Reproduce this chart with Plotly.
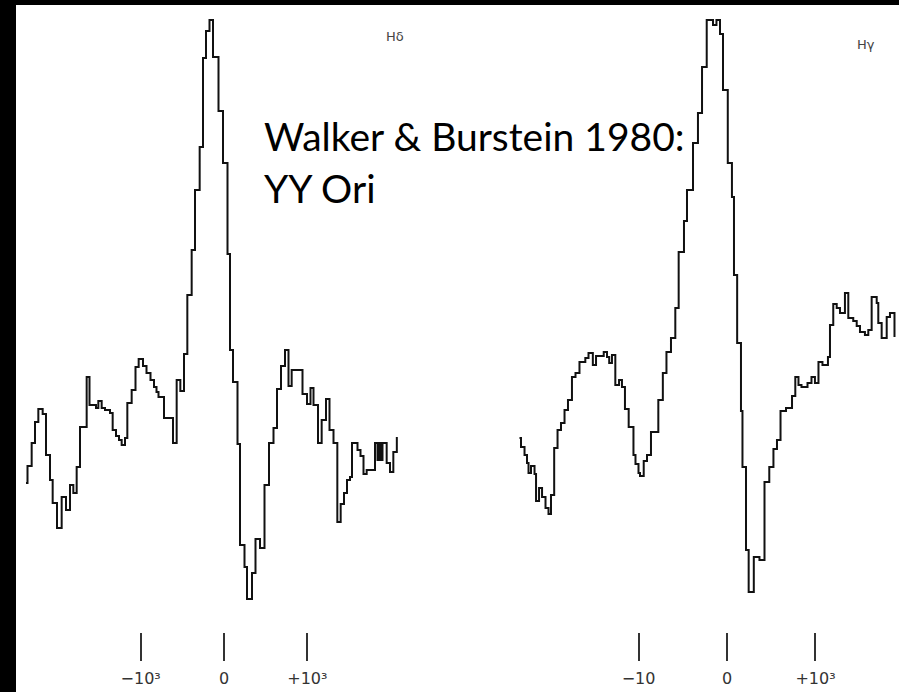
import plotly.graph_objects as go

# H-delta profile: step start velocity (km/s) and relative flux
hd_velocity = [
    -2376, -2358, -2308, -2268, -2228, -2176, -2136, -2088, -2056, -2004,
    -1948, -1896, -1848, -1808, -1768, -1728, -1648, -1614, -1536, -1508,
    -1468, -1428, -1368, -1336, -1296, -1260, -1228, -1188, -1160, -1108,
    -1062, -1024, -972, -930, -882, -840, -810, -786, -720, -612,
    -568, -524, -480, -440, -388, -348, -292, -252, -216, -174,
    -132, -66, -12, 42, 72, 108, 162, 192, 246, 276,
    336, 378, 432, 486, 540, 594, 636, 684, 732, 774,
    812, 942, 996, 1038, 1074, 1128, 1172, 1224, 1266, 1314,
    1360, 1400, 1440, 1476, 1512, 1536, 1602, 1638, 1674, 1712,
    1812, 1842, 1860, 1884, 1902, 1952, 1992, 2032, 2074,
]
hd_flux = [
    1.57, 1.74, 1.97, 2.18, 2.31, 2.26, 1.85, 1.60, 1.37, 1.12,
    1.43, 1.30, 1.55, 1.47, 1.73, 2.13, 2.63, 2.35, 2.32, 2.39,
    2.32, 2.30, 2.27, 2.10, 2.04, 2.00, 1.95, 2.02, 2.37, 2.50,
    2.73, 2.81, 2.74, 2.67, 2.60, 2.53, 2.48, 2.43, 2.22, 1.97,
    2.60, 2.49, 2.86, 3.45, 3.90, 4.50, 4.93, 5.82, 6.09, 6.20,
    5.83, 5.29, 4.77, 3.86, 2.90, 2.58, 1.96, 0.95, 0.73, 0.41,
    0.67, 1.01, 0.92, 1.55, 1.97, 2.12, 2.51, 2.74, 2.90, 2.54,
    2.70, 2.46, 2.36, 2.52, 2.35, 1.97, 2.20, 2.41, 2.10, 1.97,
    1.18, 1.36, 1.47, 1.60, 1.63, 1.97, 1.90, 1.84, 1.66, 1.70,
    1.97, 1.80, 1.97, 1.80, 1.97, 1.77, 1.68, 1.88, 2.03,
]

# H-gamma profile: step start velocity (km/s) and relative flux
hg_velocity = [
    -2345, -2328, -2288, -2260, -2243, -2215, -2175, -2158, -2124, -2090,
    -2051, -2017, -1989, -1953, -1915, -1876, -1836, -1797, -1752, -1712,
    -1667, -1601, -1565, -1516, -1480, -1393, -1356, -1331, -1300, -1262,
    -1220, -1187, -1153, -1111, -1057, -1034, -1000, -983, -941, -904,
    -859, -776, -725, -684, -633, -584, -546, -486, -452, -384,
    -328, -282, -229, -158, -119, -79, -45, 9, 56, 79,
    115, 158, 175, 215, 245, 303, 367, 424, 478, 525,
    565, 605, 667, 735, 772, 808, 842, 910, 955, 994,
    1034, 1079, 1141, 1164, 1201, 1240, 1277, 1333, 1371, 1427,
    1466, 1503, 1559, 1597, 1635, 1692, 1710, 1748, 1805, 1842,
    1893,
]
hg_flux = [
    2.02, 1.93, 1.85, 1.77, 1.67, 1.74, 1.66, 1.39, 1.52, 1.43,
    1.32, 1.26, 1.45, 1.92, 2.10, 2.17, 2.30, 2.40, 2.63, 2.67,
    2.78, 2.82, 2.87, 2.75, 2.84, 2.88, 2.83, 2.77, 2.85, 2.55,
    2.60, 2.53, 2.31, 2.13, 1.85, 1.76, 1.67, 1.64, 1.79, 1.85,
    2.08, 2.40, 2.67, 2.88, 3.02, 3.32, 3.88, 4.19, 4.50, 4.97,
    5.27, 5.73, 6.20, 6.15, 6.20, 6.06, 5.50, 4.77, 4.43, 3.65,
    2.97, 2.29, 1.73, 0.90, 0.48, 0.83, 0.80, 1.58, 1.73, 1.91,
    2.00, 2.29, 2.32, 2.44, 2.63, 2.55, 2.53, 2.57, 2.63, 2.57,
    2.78, 2.75, 2.83, 3.15, 3.36, 3.32, 3.27, 3.47, 3.22, 3.19,
    3.14, 3.08, 3.05, 3.10, 3.43, 3.37, 3.17, 3.02, 3.23, 3.27,
    3.03,
]

hd_tickvals = [-1000, 0, 1000]
hd_ticktext = ["\u221210\u00b3", "0", "+10\u00b3"]
hg_tickvals = [-1000, 0, 1000]
hg_ticktext = ["\u221210", "0", "+10\u00b3"]

line_style = dict(color="#111111", width=2, shape="hv")

fig = go.Figure()
fig.add_trace(go.Scatter(x=hd_velocity, y=hd_flux, mode="lines", line=line_style,
                         xaxis="x", yaxis="y", hoverinfo="skip"))
fig.add_trace(go.Scatter(x=hg_velocity, y=hg_flux, mode="lines", line=line_style,
                         xaxis="x2", yaxis="y", hoverinfo="skip"))

tick_font = dict(family="DejaVu Sans", size=16, color="#333333")
common_x = dict(showgrid=False, zeroline=False, showline=False, ticks="outside",
                ticklen=28, tickwidth=1.5, tickcolor="#333333", tickfont=tick_font,
                ticklabelstandoff=4, fixedrange=True)

fig.update_layout(
    width=899, height=692,
    margin=dict(l=0, r=0, t=0, b=0),
    paper_bgcolor="white", plot_bgcolor="white",
    showlegend=False,
    xaxis=dict(domain=[0, 0.5], range=[-2688, 2706], tickvals=hd_tickvals,
               ticktext=hd_ticktext, anchor="y", **common_x),
    xaxis2=dict(domain=[0.5, 1], range=[-3136, 1944], tickvals=hg_tickvals,
                ticktext=hg_ticktext, anchor="y", **common_x),
    yaxis=dict(domain=[0.0867, 1], range=[0.08, 6.40], visible=False, fixedrange=True),
    shapes=[
        dict(type="rect", xref="paper", yref="paper", x0=0, x1=16 / 899, y0=0, y1=1,
             fillcolor="black", line=dict(width=0), layer="above"),
        dict(type="rect", xref="paper", yref="paper", x0=0, x1=1, y0=1 - 5 / 692, y1=1,
             fillcolor="black", line=dict(width=0), layer="above"),
    ],
    annotations=[
        dict(text="Walker &amp; Burstein 1980:", xref="paper", yref="paper",
             x=262 / 899, y=1 - 136 / 692, xanchor="left", yanchor="middle",
             showarrow=False, font=dict(family="Lato", size=39, color="black")),
        dict(text="YY Ori", xref="paper", yref="paper",
             x=262 / 899, y=1 - 188 / 692, xanchor="left", yanchor="middle",
             showarrow=False, font=dict(family="Lato", size=39, color="black")),
        dict(text="H\u03b4", xref="paper", yref="paper",
             x=395 / 899, y=1 - 37 / 692, xanchor="center", yanchor="middle",
             showarrow=False, font=dict(family="DejaVu Sans", size=13, color="#444444")),
        dict(text="H\u03b3", xref="paper", yref="paper",
             x=866 / 899, y=1 - 44 / 692, xanchor="center", yanchor="middle",
             showarrow=False, font=dict(family="DejaVu Sans", size=13, color="#444444")),
    ],
)

fig.write_html("out.html")
